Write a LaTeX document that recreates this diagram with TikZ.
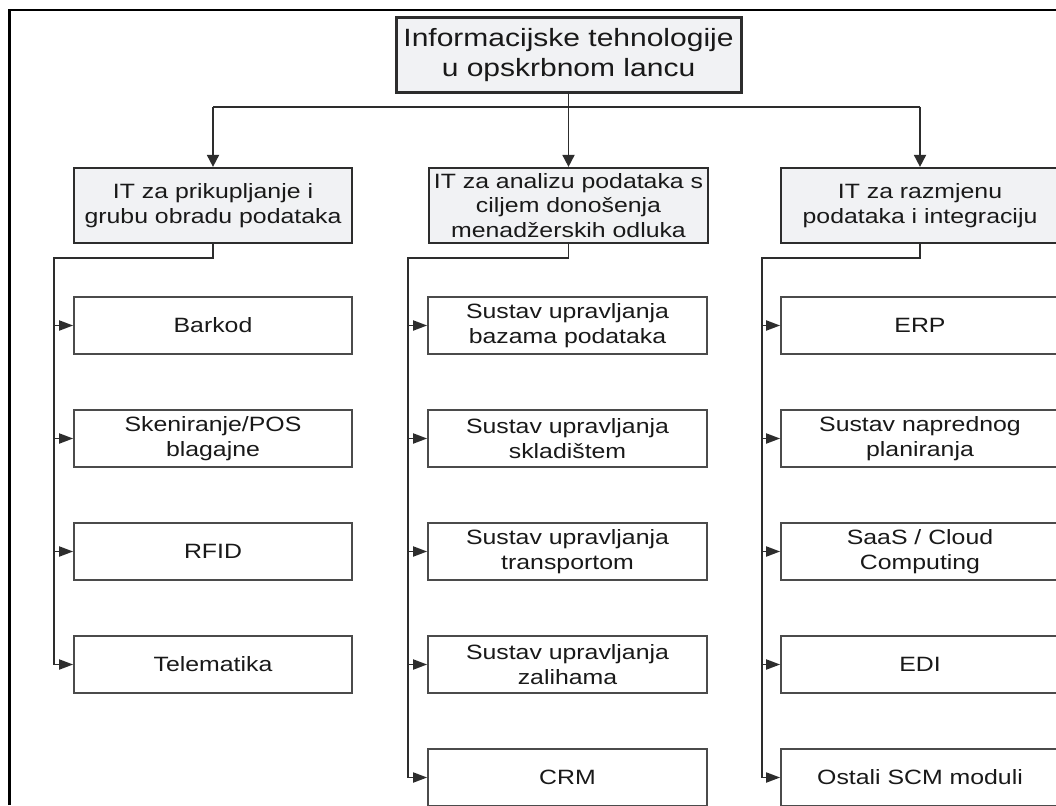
\documentclass[tikz,border=0pt]{standalone}
\usepackage{fontspec}
\setmainfont{Liberation Sans}[FakeStretch=1.2]
\usetikzlibrary{arrows.meta}
\definecolor{boxfill}{RGB}{241,242,244}
\definecolor{txt}{RGB}{25,25,25}
\definecolor{ln}{RGB}{45,45,45}
\definecolor{cbord}{RGB}{75,75,75}
\tikzset{
  topbox/.style={draw=ln, line width=3pt, fill=boxfill, text=txt, align=center,
    minimum width=345pt, minimum height=75pt, inner sep=0pt,
    font=\fontsize{25pt}{30pt}\selectfont},
  catbox/.style={draw=ln, line width=2.2pt, fill=boxfill, text=txt, align=center,
    minimum width=278pt, minimum height=75pt, inner sep=0pt,
    font=\fontsize{20.7pt}{24.5pt}\selectfont},
  itembox/.style={draw=cbord, line width=1.7pt, fill=white, text=txt, align=center,
    minimum width=278pt, minimum height=57pt, inner sep=0pt,
    font=\fontsize{20.7pt}{24.5pt}\selectfont},
  conn/.style={draw=ln, line width=1.8pt},
  downarrow/.style={conn, -{Triangle[length=12pt,width=12pt]}},
  sidearrow/.style={conn, -{Triangle[length=14pt,width=10pt]}},
}
\begin{document}
\begin{tikzpicture}[x=1pt,y=-1pt]
\clip (0,0) rectangle (1056,805);
\fill[white] (0,0) rectangle (1056,805);
% outer frame
\draw[black, line width=2.8pt] (9.5,805) -- (9.5,10) -- (1060,10);

% top
\node[topbox] (top) at (568.5,55.5) {Informacijske tehnologije\\u opskrbnom lancu};

% level 1
\node[catbox] (c1) at (213,205.5) {IT za prikupljanje i\\grubu obradu podataka};
\node[catbox, minimum width=279pt] (c2) at (568.5,205.5) {IT za analizu podataka s\\ciljem donošenja\\menadžerskih odluka};
\node[catbox] (c3) at (920,205.5) {IT za razmjenu\\podataka i integraciju};

\coordinate (hb) at (568.5,107);
\draw[conn] (top.south) -- (hb);
\draw[conn] (c1.north |- hb) -- (c3.north |- hb);
\draw[downarrow] (c1.north |- hb) -- (c1.north);
\draw[downarrow] (hb) -- (c2.north);
\draw[downarrow] (c3.north |- hb) -- (c3.north);

% left column
\node[itembox] (a1) at (213,325.5) {Barkod};
\node[itembox] (a2) at (213,438.5) {Skeniranje/POS\\blagajne};
\node[itembox] (a3) at (213,551.5) {RFID};
\node[itembox] (a4) at (213,664.5) {Telematika};

% middle column
\node[itembox, minimum width=279pt] (b1) at (567.5,325.5) {Sustav upravljanja\\bazama podataka};
\node[itembox, minimum width=279pt] (b2) at (567.5,438.5) {Sustav upravljanja\\skladištem};
\node[itembox, minimum width=279pt] (b3) at (567.5,551.5) {Sustav upravljanja\\transportom};
\node[itembox, minimum width=279pt] (b4) at (567.5,664.5) {Sustav upravljanja\\zalihama};
\node[itembox, minimum width=279pt] (b5) at (567.5,777.5) {CRM};

% right column
\node[itembox] (r1) at (920,325.5) {ERP};
\node[itembox] (r2) at (920,438.5) {Sustav naprednog\\planiranja};
\node[itembox] (r3) at (920,551.5) {SaaS / Cloud\\Computing};
\node[itembox] (r4) at (920,664.5) {EDI};
\node[itembox] (r5) at (920,777.5) {Ostali SCM moduli};

% buses
\coordinate (ba) at (54,258);
\coordinate (bb) at (408,258);
\coordinate (bc) at (762,258);
\draw[conn] (c1.south) -- (c1.south |- ba) -- (ba) -- (ba |- a4.west);
\draw[conn] (c2.south) -- (c2.south |- bb) -- (bb) -- (bb |- b5.west);
\draw[conn] (c3.south) -- (c3.south |- bc) -- (bc) -- (bc |- r5.west);
\foreach \n in {a1,a2,a3,a4} \draw[sidearrow] (ba |- \n.west) -- (\n.west);
\foreach \n in {b1,b2,b3,b4,b5} \draw[sidearrow] (bb |- \n.west) -- (\n.west);
\foreach \n in {r1,r2,r3,r4,r5} \draw[sidearrow] (bc |- \n.west) -- (\n.west);
\end{tikzpicture}
\end{document}
